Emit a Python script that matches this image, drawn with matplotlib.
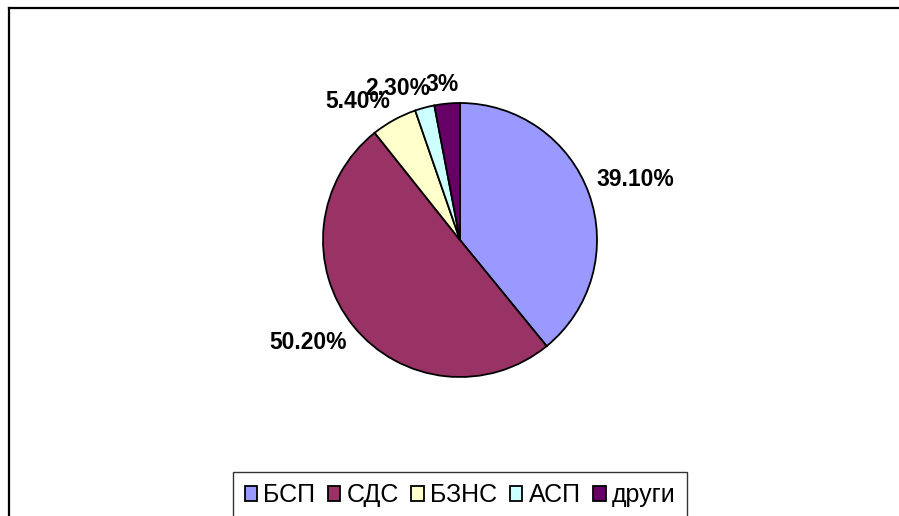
import numpy as np
import matplotlib
matplotlib.use('Agg')
import matplotlib.pyplot as plt
from matplotlib.lines import Line2D

plt.rcParams['font.family'] = ['Liberation Sans', 'DejaVu Sans']

# данни
parties = ['БСП', 'СДС', 'БЗНС', 'АСП', 'други']
shares = [39.1, 50.2, 5.4, 2.3, 3.0]
pct_labels = ['39.10%', '50.20%', '5.40%', '2.30%', '3%']
colors = ['#9999FF', '#993366', '#FFFFCC', '#CCFFFF', '#660066']

W, H = 899, 516
fig = plt.figure(figsize=(W / 100, H / 100), dpi=100)
fig.patch.set_facecolor('white')

# кръгът: център (460, 240) от горе, радиус 137 px
cx, cy, R = 460, 240, 137
ax = fig.add_axes([(cx - R) / W, (H - cy - R) / H, 2 * R / W, 2 * R / H])
wedges, _ = ax.pie(shares, colors=colors, startangle=90, counterclock=False,
                   wedgeprops=dict(edgecolor='black', linewidth=1.3))
ax.set_xlim(-1, 1)
ax.set_ylim(-1, 1)
ax.axis('off')

# етикети отвън на всеки сектор (като "outside end" в Excel)
fig.canvas.draw()
renderer = fig.canvas.get_renderer()
gap = 8
for w, lab in zip(wedges, pct_labels):
    ang = np.deg2rad((w.theta1 + w.theta2) / 2)
    c, s = np.cos(ang), np.sin(ang)
    t = ax.text(0, 0, lab, ha='center', va='center', fontsize=16.5,
                fontweight='bold', clip_on=False)
    bb = t.get_window_extent(renderer)
    px = (R + gap) * c + bb.width / 2 * np.clip(3 * c, -1, 1)
    py = (R + gap) * s + bb.height / 2 * np.clip(3 * s, -1, 1)
    t.set_position((px / R, py / R))

leg = fig.legend(wedges, parties, ncol=5, loc='upper center',
                 bbox_to_anchor=(cx / W, 1 - 472 / H), fontsize=18,
                 frameon=True, fancybox=False, edgecolor='black',
                 handlelength=0.5, handleheight=0.5, handletextpad=0.25,
                 columnspacing=0.5, borderpad=0.45, borderaxespad=0)
leg.get_frame().set_linewidth(1.0)

# рамка на диаграмата (лява и горна страна)
fig.add_artist(Line2D([8.5 / W, 8.5 / W], [0, 1 - 8 / H], color='black',
                      linewidth=1.6, transform=fig.transFigure))
fig.add_artist(Line2D([8.5 / W, 1], [1 - 8 / H, 1 - 8 / H], color='black',
                      linewidth=1.6, transform=fig.transFigure))

fig.savefig('out.png', dpi=100)
